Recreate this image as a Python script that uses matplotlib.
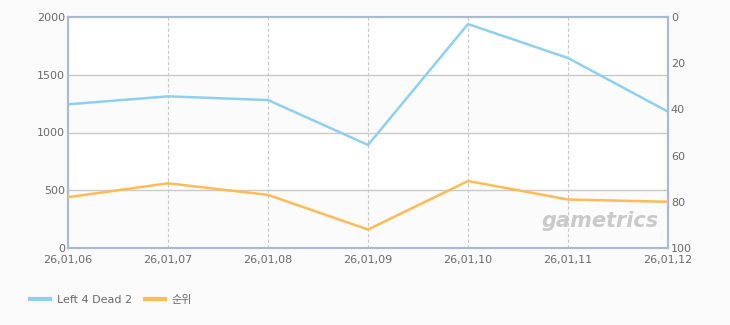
import matplotlib.pyplot as plt
from matplotlib.lines import Line2D

plt.rcParams['font.family'] = ['DejaVu Sans', 'Noto Sans CJK KR']

# data
dates = ["26,01,06", "26,01,07", "26,01,08", "26,01,09", "26,01,10", "26,01,11", "26,01,12"]
players = [1244, 1313, 1281, 892, 1939, 1645, 1180]
rank = [78, 72, 77, 92, 71, 79, 80]
left_ticks = [0, 500, 1000, 1500, 2000]
right_ticks = [0, 20, 40, 60, 80, 100]

blue = "#8fd0f0"
orange = "#ffbb55"
spine_col = "#a9bbd0"
text_col = "#6a6a6a"

fig = plt.figure(figsize=(7.3, 3.25), dpi=100)
fig.patch.set_facecolor("#fafafa")
ax = fig.add_axes([68 / 730, 77 / 325, 600 / 730, 231 / 325])
ax.set_facecolor("white")

x = list(range(len(dates)))

# alternating background bands
for i in range(len(left_ticks) - 1):
    if i % 2 == 0:
        ax.axhspan(left_ticks[i], left_ticks[i + 1], color="#fbfbfb", zorder=0, lw=0)

for v in left_ticks[1:-1]:
    ax.axhline(v, color="#c8c8c8", lw=1, zorder=1)
for xi in x[1:-1]:
    ax.axvline(xi, color="#c8c8c8", lw=0.8, ls=(0, (3, 2)), zorder=1)

ax.plot(x, players, color=blue, lw=1.8, zorder=3)
ax.set_xlim(0, len(dates) - 1)
ax.set_ylim(0, 2000)
ax.set_yticks(left_ticks)
ax.set_xticks(x)
ax.set_xticklabels(dates)

ax2 = ax.twinx()
ax2.plot(x, rank, color=orange, lw=1.8, zorder=3)
ax2.set_ylim(100, 0)
ax2.set_yticks(right_ticks)

for a in (ax, ax2):
    for s in a.spines.values():
        s.set_color(spine_col)
        s.set_linewidth(1.5)
    a.tick_params(length=0, colors=text_col, labelsize=8, pad=2)

ax.tick_params(axis="x", pad=5)

# watermark
ax.text(0.985, 0.075, "gametrics", transform=ax.transAxes, ha="right", va="bottom",
        fontsize=15, fontstyle="italic", fontweight="bold", color="#c9c9c9", zorder=2)

handles = [Line2D([], [], color=blue, lw=3), Line2D([], [], color=orange, lw=3)]
fig.legend(handles, ["Left 4 Dead 2", "순위"], loc="center left",
           bbox_to_anchor=(20 / 730, 1 - 300 / 325), ncol=2, frameon=False,
           fontsize=8, labelcolor=text_col, handlelength=1.8, handletextpad=0.6,
           columnspacing=1.2)

fig.savefig("out.png", dpi=100, facecolor=fig.get_facecolor())
